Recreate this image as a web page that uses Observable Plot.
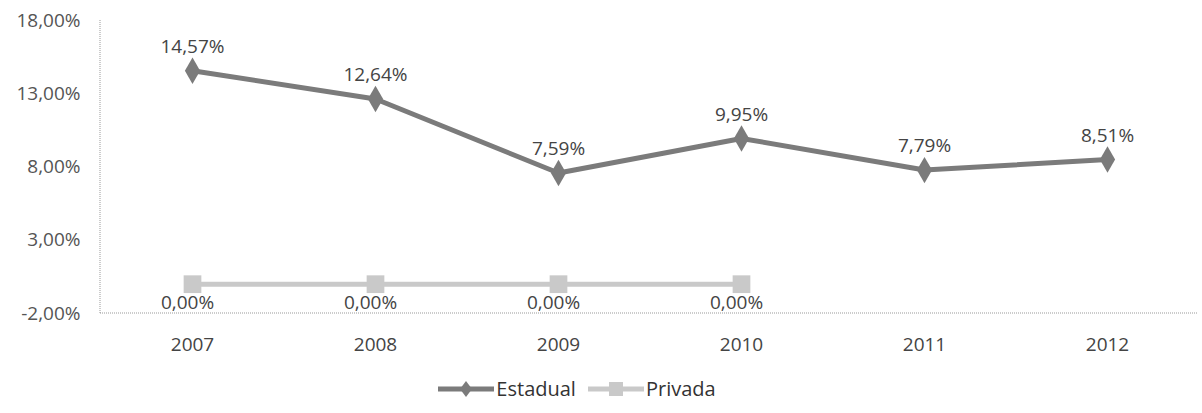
<!DOCTYPE html>
<html>
<head>
<meta charset="utf-8">
<script src="https://cdn.jsdelivr.net/npm/d3@7"></script>
<script src="https://cdn.jsdelivr.net/npm/@observablehq/plot@0.6"></script>
<style>
  body { margin: 0; background: #fff; font-family: "Open Sans", "Liberation Sans", sans-serif; }
  #chart svg { display: block; }
  .legend { display: flex; justify-content: center; align-items: center; gap: 10px; font-size: 20px; color: #333; margin-left: -50px; margin-top: 15px; }
  .legend span { display: inline-flex; align-items: center; }
</style>
</head>
<body>
<div id="chart"></div>
<div class="legend" id="legend"></div>
<script>
const years = ["2007", "2008", "2009", "2010", "2011", "2012"];
const estadual = [14.57, 12.64, 7.59, 9.95, 7.79, 8.51];
const privadaYears = ["2007", "2008", "2009", "2010"];
const privada = [0, 0, 0, 0];
const yTicks = [-2, 3, 8, 13, 18];
const seriesNames = ["Estadual", "Privada"];
const colors = {Estadual: "#7b7b7b", Privada: "#c9c9c9"};

const fmt = v => v.toFixed(2).replace(".", ",") + "%";

const est = years.map((y, i) => ({year: y, value: estadual[i]}));
const pri = privadaYears.map((y, i) => ({year: y, value: privada[i]}));

const axesLines = (index, scales, values, dimensions) => {
  const {width, height, marginLeft, marginBottom, marginTop, marginRight} = dimensions;
  const g = d3.create("svg:g");
  const yb = height - marginBottom;
  g.append("line").attr("x1", marginLeft).attr("x2", marginLeft).attr("y1", marginTop).attr("y2", yb)
    .attr("stroke", "#999").attr("stroke-dasharray", "1,1");
  g.append("line").attr("x1", marginLeft).attr("x2", width - marginRight).attr("y1", yb).attr("y2", yb)
    .attr("stroke", "#999").attr("stroke-dasharray", "1,1");
  return g.node();
};

const chart = Plot.plot({
  width: 1202,
  height: 360,
  marginTop: 20,
  marginBottom: 47,
  marginLeft: 100,
  marginRight: 4,
  style: {fontFamily: "'Open Sans', 'Liberation Sans', sans-serif", fontSize: "19px", color: "#555", background: "#fff"},
  x: {type: "point", domain: years, padding: 0.5, label: null},
  y: {domain: [-2, 18], label: null},
  marks: [
    axesLines,
    Plot.axisY({ticks: yTicks, tickFormat: fmt, tickSize: 0, tickPadding: 20, fill: "#555", fontSize: 19}),
    Plot.axisX({tickSize: 0, tickPadding: 24, fill: "#444", fontSize: 19}),
    Plot.line(pri, {x: "year", y: "value", stroke: colors.Privada, strokeWidth: 5}),
    Plot.dot(pri, {x: "year", y: "value", symbol: "square", fill: colors.Privada, r: 10}),
    Plot.line(est, {x: "year", y: "value", stroke: colors.Estadual, strokeWidth: 5}),
    Plot.dot(est, {x: "year", y: "value", symbol: "diamond", fill: colors.Estadual, r: 8}),
    Plot.text(est, {x: "year", y: "value", text: d => fmt(d.value), dy: -24, fill: "#444", fontSize: 19}),
    Plot.text(pri, {x: "year", y: "value", text: d => fmt(d.value), dy: 19, dx: -5, fill: "#444", fontSize: 19})
  ]
});
document.getElementById("chart").append(chart);

// legend
const legend = document.getElementById("legend");
const markerSvg = name => {
  const c = colors[name];
  const shape = name === "Estadual"
    ? `<path d="M30,2 L36,10 L30,18 L24,10 Z" fill="${c}"/>`
    : `<rect x="23" y="3" width="14" height="14" fill="${c}"/>`;
  return `<svg width="60" height="20"><line x1="2" x2="58" y1="10" y2="10" stroke="${c}" stroke-width="5"/>${shape}</svg>`;
};
seriesNames.forEach(n => {
  const s = document.createElement("span");
  s.innerHTML = markerSvg(n) + `<span>${n}</span>`;
  legend.append(s);
});
</script>
</body>
</html>
